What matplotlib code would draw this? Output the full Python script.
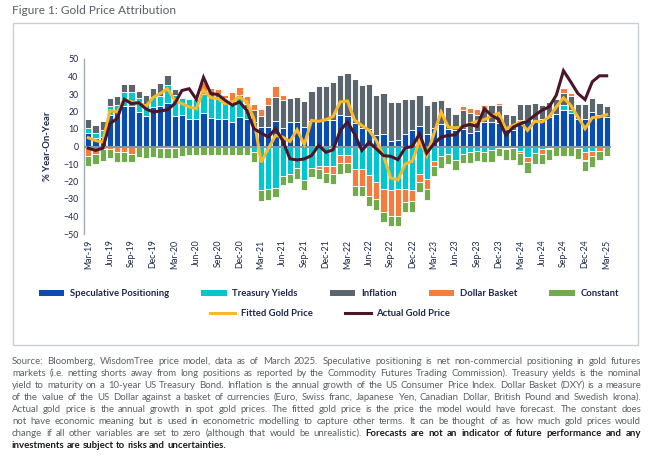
import numpy as np
import pandas as pd
import matplotlib
matplotlib.use('Agg')
from matplotlib import pyplot as plt
from matplotlib.patches import Patch, Rectangle
from matplotlib.lines import Line2D

plt.rcParams['font.family'] = ['Lato', 'DejaVu Sans']

# monthly, Mar-19 .. Mar-25
months = pd.date_range('2019-03-01', '2025-03-01', freq='MS')
month_labels = [d.strftime('%b-%y') for d in months]

spec = [8, 5, 5.5, 18, 20, 23, 23, 20, 17.5, 22.5, 23, 25, 17.5, 18, 16, 16, 19, 16.5, 16, 16,
        14, 17, 16, 14, 11, 11, 14.5, 10.7, 14, 14, 11, 14.6, 14.6, 15, 15.3, 17.8, 17.5, 13.5,
        10.7, 10, 6.3, 7.3, 3.4, 4, 6.9, 9.6, 12, 7.3, 10.7, 13, 10, 9.6, 10, 7.7, 9, 14, 14,
        13.5, 10.2, 9.2, 15, 15, 14, 15.5, 17, 18.8, 20.7, 19.2, 15.9, 15.9, 19.7, 17.8, 16.9]
treasury = [2.5, 2.5, 4, 5, 4, 8, 8, 7.5, 7, 6, 6, 10, 12, 9.5, 11, 11, 11, 12, 12.5, 11,
            10, 11, 6, -3, -25, -24.5, -23.5, -17, -15.5, -12.5, -19, -12, -11, -11, -11, -5,
            -5, -12.8, -12.8, -16.5, -20, -24.3, -25, -24.3, -24.3, -25, -15.7, -18.6, -8, -5.2,
            -4.2, -7.7, -4.2, -3.3, -2.7, -3.3, -2, -1, -0.8, -1, -2.5, -5.9, -3.5, -1.5, -0.7,
            0, 2.9, 1.5, -0.5, -3.3, -2.3, 0, 0]
inflation = [5, 5, 5, 5, 5, 5, 4.5, 4, 5, 5, 7.5, 6, 3.5, 1, 0.5, 1, 2, 1.5, 1.5, 1, 1, 1.5,
             2.5, 7, 6.5, 12.5, 14, 15.7, 13.8, 14.4, 15, 17.4, 20, 19.7, 21.7, 23, 24.5, 24.8,
             24.7, 26, 23.4, 23.4, 22, 21.5, 20.5, 17.8, 17.7, 16.7, 15.5, 13.5, 12.6, 8.8, 10.7,
             11.5, 9, 7.6, 9.5, 10.5, 8.2, 8.6, 9.1, 9.1, 10.9, 8.5, 8.5, 8.6, 6.7, 8.3, 8.2, 8.2,
             8.3, 7.3, 6.5]
dollar = [-5.5, -4, -1.5, -1.5, -3, -3, -4, -0.5, -0.5, -0.5, -0.8, -0.8, -0.8, 0, 0, 0, 5,
          3.5, 3, 1.5, 6, 4.5, 4.5, 3.5, 4, 5, 6, 3, 0, 0, 0, 0, -2, -4, -4.5, -4.5, -4.5, -9.6,
          -9.6, -12, -10, -13, -14.7, -15.4, -7.3, -6, -4.8, -5.7, -3, 0.8, 0, 0.5, 2.5, 3, 3.5,
          2, 1, 1, -0.5, 0, -1, -3.2, 0, -2.7, -0.8, 0, 3.4, 1.3, -0.5, -4.7, -3.4, -2.3, 0]
constant = [-5.5, -6, -7, -5, -6, -6, -5, -5.5, -6, -5.5, -6, -6, -6, -5.5, -5, -5, -5, -5, -5,
            -5, -5, -5, -5, -6, -6, -6, -5.5, -5, -5.5, -6, -6, -5.5, -5.5, -6, -6, -6, -5.5, -6,
            -6, -5.5, -6, -5.7, -6, -6, -6, -6.4, -5.4, -6.4, -5.7, -6.8, -5.8, -5.7, -5.4, -6.3,
            -5.7, -5.7, -7, -4.5, -6.7, -6.5, -6.8, -6, -6.5, -5.6, -6.2, -5.2, -5.2, -5.2, -6,
            -5.8, -6.2, -5.4, -5.2]
fitted = [5, 3.4, 2.5, 20.5, 19.7, 27, 25.5, 25, 23, 28, 30.3, 33, 26.5, 24.5, 22.6, 21.6, 32.2,
          28, 27.4, 24.5, 25.5, 28.4, 25.5, 15.9, -9, -1.3, 6.3, 5.4, 2.9, 9.6, 1.1, 14.9, 14.4,
          15.3, 17.2, 25.5, 26, 15, 12, 9.2, 3.4, -5.2, -18, -19.2, -10, -8.4, 3.4, -5.2, 7.3,
          19.7, 11.1, 10.7, 11.1, 13, 14.5, 15.3, 17.5, 19, 10, 12, 14, 9.2, 14.4, 14, 16.9, 22.6,
          27.8, 23.6, 16.9, 10.2, 16.5, 16.9, 18.2]
actual = [-1, -2.2, -1, 13, 16, 27, 24.5, 25, 21.5, 19.7, 20.3, 21, 24.5, 32, 33, 27, 39.5,
          30.3, 29.7, 26.4, 23.6, 25.5, 20.7, 10.2, 7.7, 5.4, 10.2, 3.4, -7, -7.7, -7.1, -5.2,
          0.6, -3.3, -1.9, 9.2, 14, 7, -2.3, 2.5, -1.3, -5.2, -5.6, -7.5, -0.8, 0, 7.3, -3.8,
          1.5, 5.4, 6.3, 6.7, 11.5, 12.6, 11.5, 21.6, 17.8, 15.5, 6.5, 11, 13, 14.4, 17.8, 20.7,
          22.6, 29.3, 43.3, 37, 30.3, 26.8, 37, 40.4, 40.4]

series = [('Speculative Positioning', spec, '#0a4db0'),
          ('Treasury Yields', treasury, '#00c6cf'),
          ('Inflation', inflation, '#5a656d'),
          ('Dollar Basket', dollar, '#f47c3c'),
          ('Constant', constant, '#70ab4c')]

caption = [
    [("Source: Bloomberg, WisdomTree price model, data as of March 2025. Speculative positioning is net non-commercial positioning in gold futures", False)],
    [("markets (i.e. netting shorts away from long positions as reported by the Commodity Futures Trading Commission). Treasury yields is the nominal", False)],
    [("yield to maturity on a 10-year US Treasury Bond. Inflation is the annual growth of the US Consumer Price Index. Dollar Basket (DXY) is a measure", False)],
    [("of the value of the US Dollar against a basket of currencies (Euro, Swiss franc, Japanese Yen, Canadian Dollar, British Pound and Swedish krona).", False)],
    [("Actual gold price is the annual growth in spot gold prices. The fitted gold price is the price the model would have forecast. The constant does", False)],
    [("not have economic meaning but is used in econometric modelling to capture other terms. It can be thought of as how much gold prices would", False)],
    [("change if all other variables are set to zero (although that would be unrealistic).", False),
     ("Forecasts are not an indicator of future performance and any", True)],
    [("investments are subject to risks and uncertainties.", True)],
]

W, H = 658, 472
navy = '#1c2649'

fig = plt.figure(figsize=(W / 100, H / 100), dpi=100)
ax = fig.add_axes([84 / W, 1 - 234 / H, 527 / W, 175 / H])

x = np.arange(len(months))
pos_bot = np.zeros(len(x))
neg_bot = np.zeros(len(x))
for name, vals, col in series:
    v = np.array(vals, dtype=float)
    p = np.where(v > 0, v, 0)
    n = np.where(v < 0, v, 0)
    ax.bar(x, p, bottom=pos_bot, width=0.86, color=col, edgecolor='white', linewidth=0.6, zorder=2)
    ax.bar(x, n, bottom=neg_bot, width=0.86, color=col, edgecolor='white', linewidth=0.6, zorder=2)
    pos_bot += p
    neg_bot += n

ax.axhline(0, color='#8593a3', lw=1.4, zorder=3)
ax.plot(x, fitted, color='#fbb829', lw=2.2, zorder=4, solid_joinstyle='miter')
ax.plot(x, actual, color='#4b1628', lw=2.2, zorder=5, solid_joinstyle='miter')

ax.set_xlim(-0.6, len(x) - 0.4)
ax.set_ylim(-50, 50)
ax.set_yticks(np.arange(-50, 51, 10))
ax.set_xticks(x[::3])
ax.set_xticklabels(month_labels[::3], rotation=90)
ax.tick_params(axis='both', length=0, labelsize=6.3, colors=navy)
ax.tick_params(axis='x', pad=4)
ax.tick_params(axis='y', pad=4)
for s in ['top', 'right', 'bottom']:
    ax.spines[s].set_visible(False)
ax.spines['left'].set_color('#a3abb3')
ax.spines['left'].set_linewidth(1.0)
ax.set_ylabel('% Year-On-Year', fontsize=6.8, color=navy, fontweight='bold', labelpad=8)

# frame around the chart
fig.patches.append(Rectangle((13 / W, 1 - 345 / H), 625 / W, 322 / H, transform=fig.transFigure,
                             fill=False, edgecolor='#c9ced3', lw=1.0))

fig.text(12 / W, 1 - 11 / H, 'Figure 1: Gold Price Attribution', fontsize=8.6, color='#5a5f66',
         va='center', ha='left')

bar_handles = [Patch(facecolor=c, label=n) for n, _, c in series]
leg1 = fig.legend(handles=bar_handles, loc='center', bbox_to_anchor=(329 / W, 1 - 294 / H), ncol=5,
                  frameon=False, fontsize=6.8, handlelength=2.7, handleheight=0.6,
                  handletextpad=0.6, columnspacing=3.4)
line_handles = [Line2D([], [], color='#fbb829', lw=2.2, label='Fitted Gold Price'),
                Line2D([], [], color='#4b1628', lw=2.2, label='Actual Gold Price')]
leg2 = fig.legend(handles=line_handles, loc='center', bbox_to_anchor=(330 / W, 1 - 314 / H), ncol=2,
                  frameon=False, fontsize=6.8, handlelength=2.7, handletextpad=0.6, columnspacing=3.4)
for lg in (leg1, leg2):
    for t in lg.get_texts():
        t.set_color(navy)
        t.set_fontweight('bold')

# justified caption below the frame
renderer = fig.canvas.get_renderer()
x0, x1 = 12, 641
cap_size = 6.95
for k, segs in enumerate(caption):
    y = 1 - (361 + 12 * k) / H
    words = [(w, b) for txt, b in segs for w in txt.split()]
    texts, widths = [], []
    for w, b in words:
        t = fig.text(0, y, w, fontsize=cap_size, va='center', ha='left',
                     fontweight='bold' if b else 'normal', color='#1b1b1b' if b else '#5c6066')
        texts.append(t)
        widths.append(t.get_window_extent(renderer).width)
    if k == len(caption) - 1:
        gap = cap_size * 0.3
    else:
        gap = max((x1 - x0 - sum(widths)) / (len(words) - 1), 1.0)
    cx = x0
    for t, wd in zip(texts, widths):
        t.set_x(cx / W)
        cx += wd + gap

fig.savefig('out.png', dpi=100)
